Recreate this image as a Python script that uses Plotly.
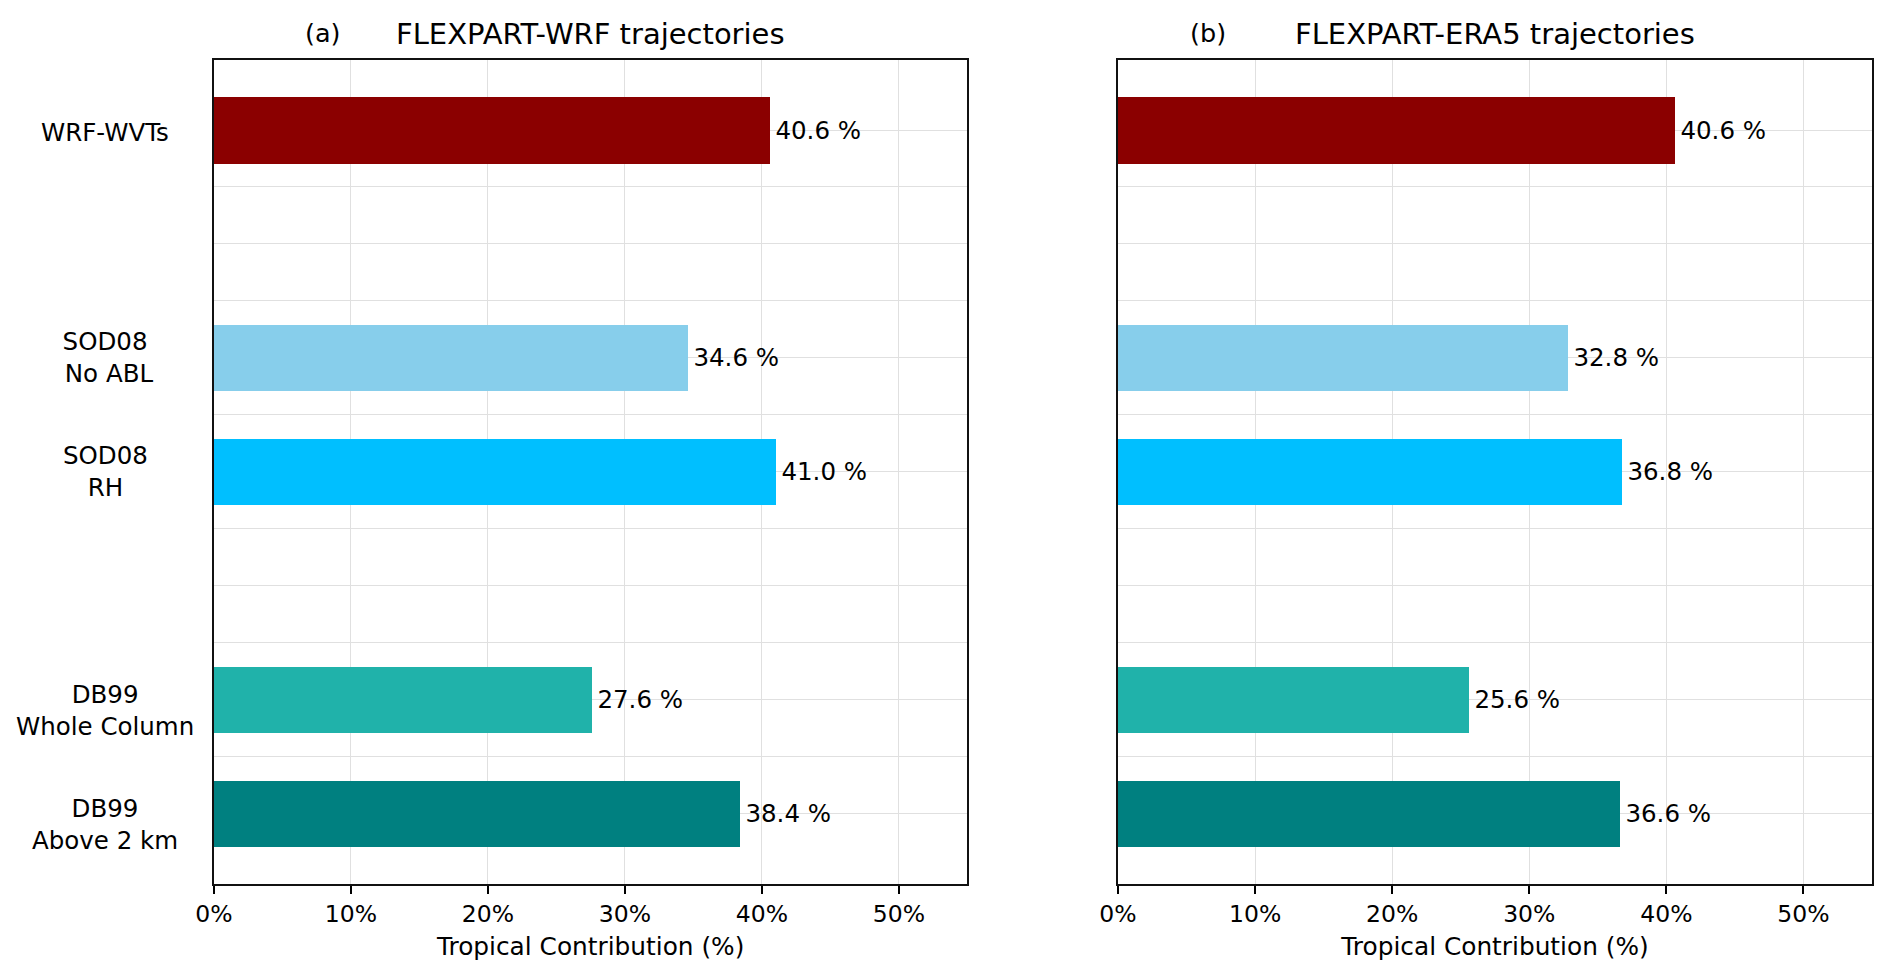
import plotly.graph_objects as go
from plotly.subplots import make_subplots

# ---- data ----
categories = ["WRF-WVTs", "SOD08<br>\u00a0No ABL", "SOD08<br>RH", "DB99<br>Whole Column", "DB99<br>Above 2 km"]
positions = [6, 4, 3, 1, 0]
wrf_values = [40.6, 34.6, 41.0, 27.6, 38.4]
era5_values = [40.6, 32.8, 36.8, 25.6, 36.6]
bar_colors = ["#8B0000", "#87CEEB", "#00BFFF", "#20B2AA", "#008080"]
panel_titles = ["FLEXPART-WRF trajectories", "FLEXPART-ERA5 trajectories"]
panel_letters = ["(a)", "(b)"]
x_ticks = [0, 10, 20, 30, 40, 50]
x_ticktext = [f"{v}%" for v in x_ticks]
grid_y = [i * 0.5 for i in range(13)]

# label vertical nudges (style, px downwards)
label_dy = [2, 0, 0, 11, 11]

FONT = "DejaVu Sans"
PAGE_W, PAGE_H = 1892, 978
OFF = 8  # default body margin of the html page
W, H = PAGE_W - 2 * OFF, PAGE_H - 2 * OFF


def fx(p):
    return (p - OFF) / W


def fy(p):
    return 1 - (p - OFF) / H


fig = make_subplots(rows=1, cols=2)

for col, vals in enumerate([wrf_values, era5_values], start=1):
    fig.add_trace(
        go.Bar(
            x=vals, y=positions, orientation="h", width=0.58,
            marker=dict(color=bar_colors, line=dict(width=0)),
            texttemplate="\u200a%{x:.1f} %", textposition="outside",
            textfont=dict(family=FONT, size=24.5, color="#000000"),
            constraintext="none", cliponaxis=False, showlegend=False,
            hoverinfo="skip",
        ),
        row=1, col=col,
    )

xdom = [[fx(214.0), fx(967.4)], [fx(1118.0), fx(1872.0)]]
ydom = [fy(884.0), fy(59.5)]

for i in range(2):
    xa = "xaxis" if i == 0 else "xaxis2"
    ya = "yaxis" if i == 0 else "yaxis2"
    fig.layout[xa].update(
        domain=xdom[i], range=[0, 55], tickmode="array", tickvals=x_ticks,
        ticktext=x_ticktext, ticks="outside", ticklen=8, tickwidth=1.5, tickcolor="#000",
        showgrid=True, gridcolor="#e0e0e0", gridwidth=1, zeroline=False,
        showline=True, linecolor="#111", linewidth=2, mirror=True,
        tickfont=dict(family=FONT, size=23.5, color="#000"),
        title=dict(text="Tropical Contribution (%)", font=dict(family=FONT, size=24.8, color="#000"),
                   standoff=10),
        automargin=False,
    )
    fig.layout[ya].update(
        domain=ydom, range=[-0.619, 6.619], tickmode="array", tickvals=grid_y,
        showticklabels=False, ticks="", showgrid=True, gridcolor="#e0e0e0", gridwidth=1,
        zeroline=False, showline=True, linecolor="#111", linewidth=2, mirror=True,
        automargin=False,
    )

annotations = []
# category labels (left panel only), centred at a common x
for cat, pos, dy in zip(categories, positions, label_dy):
    annotations.append(dict(
        text=cat, x=fx(105.0), xref="paper", y=pos, yref="y", xanchor="center", yanchor="middle",
        yshift=-dy, align="center", showarrow=False,
        font=dict(family=FONT, size=24.5, color="#000"),
    ))
# panel titles
letter_px = [323.0, 1208.0]
for i in range(2):
    xr = "x domain" if i == 0 else "x2 domain"
    annotations.append(dict(
        text=panel_titles[i], x=0.5, xref=xr, y=fy(34.0), yref="paper",
        xanchor="center", yanchor="middle", showarrow=False,
        font=dict(family=FONT, size=29, color="#000"),
    ))
    annotations.append(dict(
        text=panel_letters[i], x=fx(letter_px[i]), xref="paper", y=fy(33.0), yref="paper",
        xanchor="center", yanchor="middle", showarrow=False,
        font=dict(family=FONT, size=25.5, color="#000"),
    ))

fig.update_layout(
    width=W, height=H, margin=dict(l=0, r=0, t=0, b=0, autoexpand=False),
    paper_bgcolor="white", plot_bgcolor="white",
    annotations=annotations, bargap=0,
    font=dict(family=FONT, color="#000"),
)

fig.write_html("out.html")
